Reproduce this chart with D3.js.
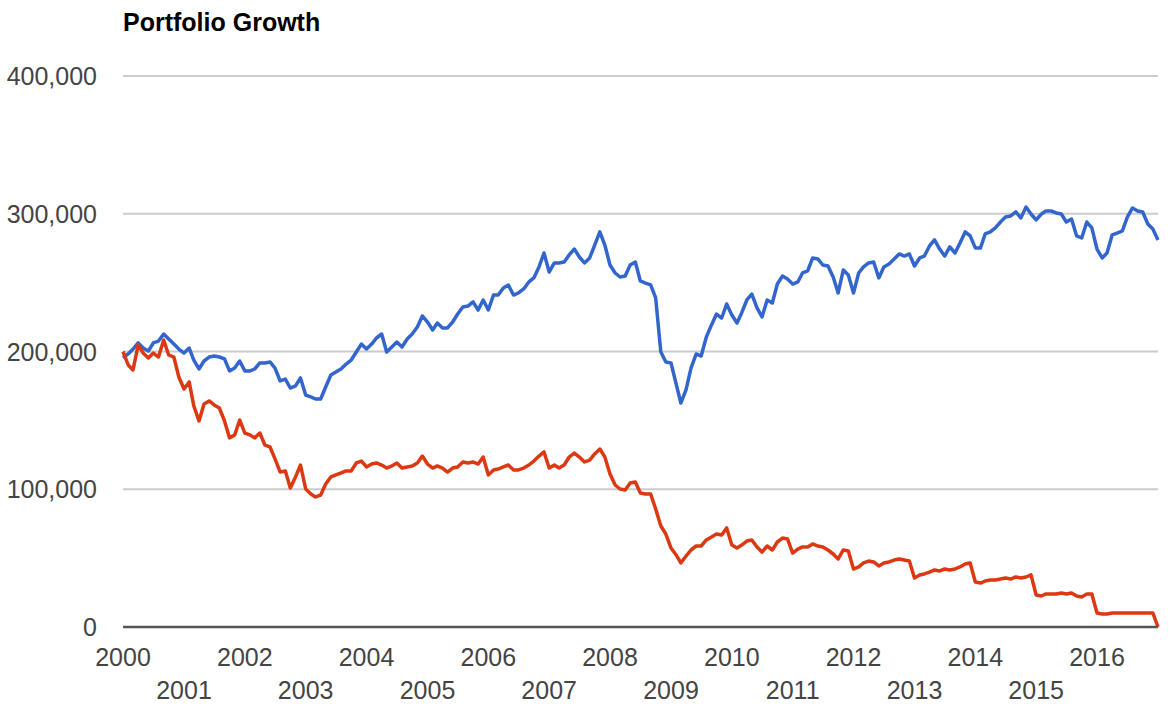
<!DOCTYPE html>
<html>
<head>
<meta charset="utf-8">
<script src="https://cdn.jsdelivr.net/npm/d3@7"></script>
<style>
  html, body { margin: 0; padding: 0; background: #fff; }
  svg { display: block; font-family: "Liberation Sans", Arial, sans-serif; }
</style>
</head>
<body>
<svg id="chart" width="1170" height="720"></svg>
<script>
// ---- Data (monthly, Jan 2000 .. Jan 2017) ----
const startMonth = new Date(2000, 0, 1);
const endMonth = new Date(2017, 0, 1);

const seriesBlue = [
  195300,198200,201800,206200,202500,200400,206200,207600,212700,209100,205400,201800,
  198900,202500,193800,187300,193100,196000,196700,196000,194600,185900,188000,193100,
  185900,185900,187300,191700,191700,192400,188000,178600,180000,173500,175000,180800,
  168400,167000,165500,165500,174200,182900,185100,187300,190900,193800,199600,205400,
  201800,205400,209800,212700,199600,203300,206900,203300,209100,212700,217800,225800,
  221400,215600,220700,217100,217100,221400,227200,232300,233000,236000,230100,237400,
  230100,241000,241000,246100,248300,241000,242500,245400,250500,253400,261400,271500,
  257700,264300,264300,265000,270100,274400,268600,264300,267900,277300,286800,277300,
  262800,257000,254100,254800,262800,265000,251200,249700,248300,238900,199600,192400,
  191700,176400,162600,172100,188000,198200,196700,210500,219300,227200,224300,234500,
  226500,220700,228000,237400,241700,231600,225100,237400,235200,249000,254800,252600,
  249000,250500,257000,258500,267900,267200,262800,262100,254100,242500,259200,255600,
  242500,257000,261400,264300,265000,253400,261400,263500,267200,270800,269300,270800,
  262100,267900,269300,276600,281000,274400,269300,275900,271500,278800,286800,283900,
  275200,275200,285300,286800,289700,294000,297600,298400,301300,297000,304900,299800,
  295500,299800,302000,302000,300600,299800,294000,296200,283900,282400,294000,289700,
  274400,267900,271500,284600,286000,287500,297600,304200,302000,301300,292600,288900,
  281000
];

const seriesRed = [
  200000,190200,186600,204700,198900,195300,198900,196000,208400,197500,196000,181500,
  172800,177900,160400,149600,161900,164100,161200,159000,149600,137300,139400,150300,
  140800,139400,137300,140800,132100,130700,122000,112500,113300,100900,108900,117600,
  100200,96600,94400,95800,103800,108900,110400,111800,113300,113300,119100,120500,
  116200,118300,119100,117600,115400,116900,119100,115400,116200,116900,119100,124100,
  118300,115400,116900,115400,112500,115400,116200,119800,119100,119800,118300,123400,
  110400,114000,114700,116200,117600,114000,114000,115400,117600,120500,124100,127100,
  115400,117600,115400,117600,123400,126300,123400,119800,121200,125600,129200,123400,
  111100,103100,100200,99500,104500,105300,97300,96600,96600,85700,73300,67500,
  57400,52300,46500,51500,55900,58800,58800,63200,65300,67500,66800,71900,
  59500,57400,59500,62400,63200,58100,54400,58800,55900,61700,64600,63900,
  53700,56600,58100,58100,60300,58800,58100,55900,53000,49400,55900,55200,
  42100,43600,46500,47900,47200,44300,46500,47200,48600,49400,48600,47900,
  35600,37800,38500,39900,41400,40700,42100,41400,42100,43600,45700,46500,
  32700,31900,33400,34100,34100,34800,35600,34800,36300,35600,36300,37800,
  23200,22500,24000,24000,24000,24700,24000,24700,22500,21800,24000,24000,
  10200,9400,9400,10200,10200,10200,10200,10200,10200,10200,10200,10200,
  0
];

const yTicks = [0, 100000, 200000, 300000, 400000];
const xTickYears = [2000,2001,2002,2003,2004,2005,2006,2007,2008,2009,2010,2011,2012,2013,2014,2015,2016];
const titleText = "Portfolio Growth";

const months = d3.timeMonth.range(startMonth, d3.timeMonth.offset(endMonth, 1));

// ---- Layout ----
const svg = d3.select("#chart");
const plot = { left: 123, right: 1158, top: 76, bottom: 627 };

const x = d3.scaleTime().domain([startMonth, endMonth]).range([plot.left, plot.right]);
const y = d3.scaleLinear().domain([0, 400000]).range([plot.bottom, plot.top]);

// Title
svg.append("text")
  .attr("x", plot.left)
  .attr("y", 31)
  .attr("font-size", 25)
  .attr("font-weight", "bold")
  .attr("fill", "#000")
  .text(titleText);

// Gridlines
svg.append("g")
  .selectAll("line")
  .data(yTicks.filter(d => d !== 0))
  .join("line")
  .attr("x1", plot.left).attr("x2", plot.right)
  .attr("y1", d => y(d)).attr("y2", d => y(d))
  .attr("stroke", "#cccccc")
  .attr("stroke-width", 2);

// Y axis labels
const fmt = d3.format(",");
svg.append("g")
  .selectAll("text")
  .data(yTicks)
  .join("text")
  .attr("x", 97)
  .attr("y", d => y(d))
  .attr("dy", "0.36em")
  .attr("text-anchor", "end")
  .attr("font-size", 25)
  .attr("fill", "#444")
  .text(d => fmt(d));

// X axis labels (staggered)
svg.append("g")
  .selectAll("text")
  .data(xTickYears)
  .join("text")
  .attr("x", d => x(new Date(d, 0, 1)))
  .attr("y", (d, i) => i % 2 === 0 ? 666 : 699)
  .attr("text-anchor", "middle")
  .attr("font-size", 25)
  .attr("fill", "#444")
  .text(d => String(d));

// Lines
const line = d3.line()
  .x((d, i) => x(months[i]))
  .y(d => y(d));

svg.append("path")
  .datum(seriesBlue)
  .attr("fill", "none")
  .attr("stroke", "#3366cc")
  .attr("stroke-width", 3.5)
  .attr("stroke-linejoin", "round")
  .attr("d", line);

svg.append("path")
  .datum(seriesRed)
  .attr("fill", "none")
  .attr("stroke", "#dc3912")
  .attr("stroke-width", 3.5)
  .attr("stroke-linejoin", "round")
  .attr("d", line);

// Zero baseline
svg.append("line")
  .attr("x1", plot.left).attr("x2", plot.right)
  .attr("y1", y(0)).attr("y2", y(0))
  .attr("stroke", "#555")
  .attr("stroke-width", 2.5);
</script>
</body>
</html>
